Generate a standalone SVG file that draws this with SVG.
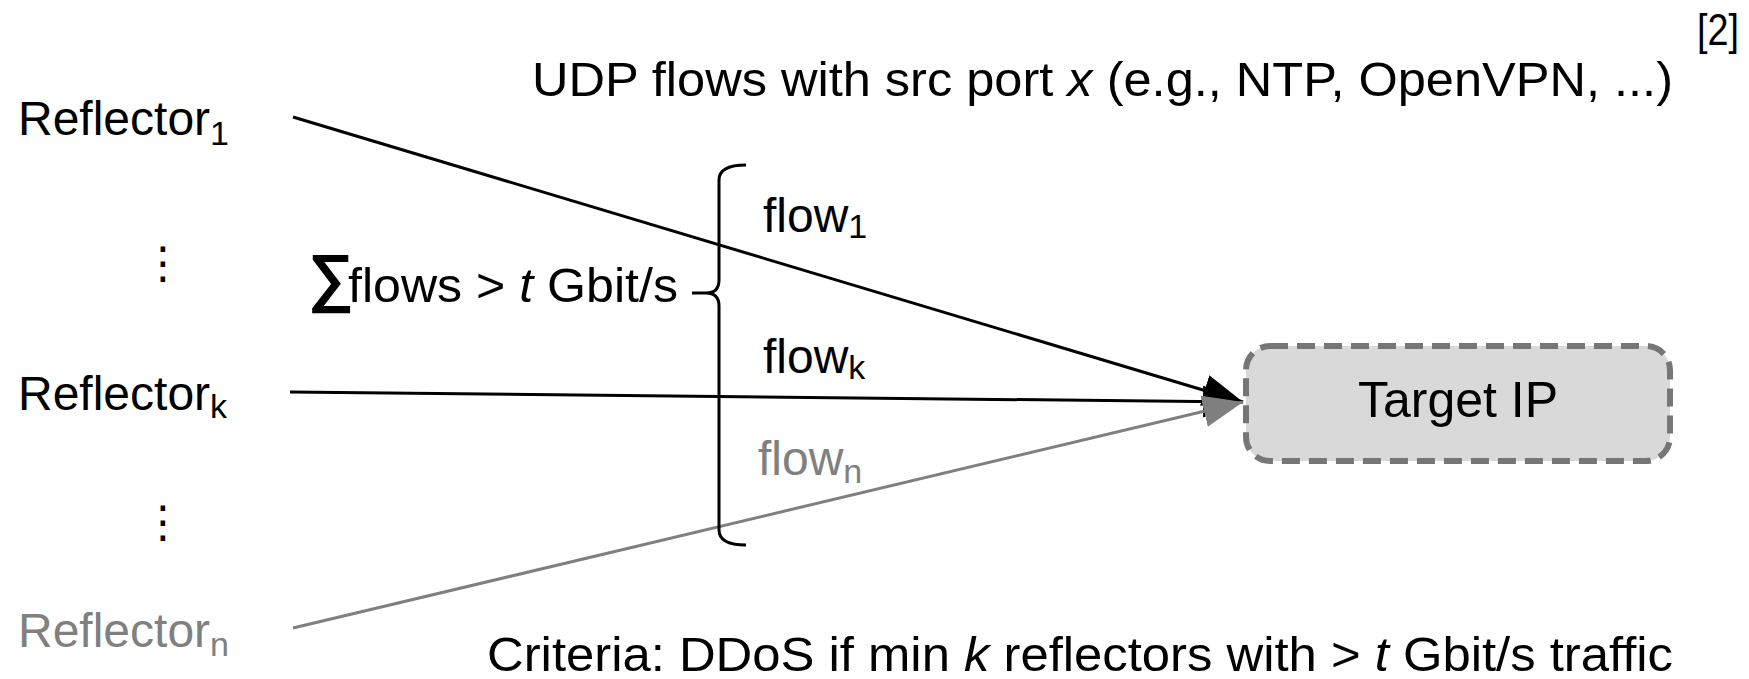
<svg xmlns="http://www.w3.org/2000/svg" width="1749" height="679" viewBox="0 0 1749 679">
<style>
text{font-family:"Liberation Sans",Arial,sans-serif;font-size:48px;fill:#000}
.gray{fill:#808080}
.sub{font-size:34px}
.it{font-style:italic}
.dots{font-family:"DejaVu Sans",sans-serif;font-size:44px;text-anchor:middle}
.sig{font-family:"Liberation Sans","DejaVu Sans",sans-serif;font-weight:bold;font-size:64px}
.ln{stroke:#000;stroke-width:3;fill:none}
.lng{stroke:#7f7f7f;stroke-width:3;fill:none}
</style>
<defs>
<marker id="ab" markerUnits="userSpaceOnUse" markerWidth="40" markerHeight="32" refX="40" refY="16" orient="auto"><path d="M0,0 L40,16 L0,32 z" fill="#000"/></marker>
<marker id="ag" markerUnits="userSpaceOnUse" markerWidth="40" markerHeight="32" refX="40" refY="16" orient="auto"><path d="M0,0 L40,16 L0,32 z" fill="#7f7f7f"/></marker>
</defs>
<rect width="1749" height="679" fill="#fff"/>
<text x="1697" y="45" style="font-size:44px" textLength="42" lengthAdjust="spacingAndGlyphs">[2]</text>
<text x="532" y="96" textLength="1141" lengthAdjust="spacingAndGlyphs">UDP flows with src port <tspan class="it">x</tspan> (e.g., NTP, OpenVPN, ...)</text>
<text x="487" y="671" textLength="1186" lengthAdjust="spacingAndGlyphs">Criteria: DDoS if min <tspan class="it">k</tspan> reflectors with &gt; <tspan class="it">t</tspan> Gbit/s traffic</text>
<g id="reflector1"><text x="18" y="135">Reflector<tspan class="sub" dy="10">1</tspan></text></g>
<g id="dots1"><text class="dots" x="163" y="278">⋮</text></g>
<g id="reflectork"><text x="18" y="410">Reflector<tspan class="sub" dy="8">k</tspan></text></g>
<g id="dots2"><text class="dots" x="163" y="537">⋮</text></g>
<g id="reflectorn"><text class="gray" x="18" y="647">Reflector<tspan class="sub" dy="9">n</tspan></text></g>
<g id="target"><rect x="1246" y="346" width="424" height="115" rx="24" fill="#d9d9d9" stroke="#767676" stroke-width="6" stroke-dasharray="18 9"/><text x="1458" y="417" text-anchor="middle" style="font-size:50px">Target IP</text></g>
<g id="connectors">
<line class="ln" x1="290" y1="392" x2="1243" y2="402" marker-end="url(#ab)"/>
<line class="ln" x1="293" y1="117" x2="1243" y2="402" marker-end="url(#ab)"/>
<line class="lng" x1="293" y1="628" x2="1243" y2="402" marker-end="url(#ag)"/>
</g>
<g id="brace">
<path class="ln" d="M746,165 Q719,165 719,180 L719,280 Q719,293 706,293 L692,293 M706,293 Q719,293 719,306 L719,530 Q719,545 746,545"/>
<text x="308" y="299"><tspan class="sig">∑</tspan><tspan x="348" y="302" textLength="330" lengthAdjust="spacingAndGlyphs">flows &gt; <tspan class="it">t</tspan> Gbit/s</tspan></text>
</g>
<g id="flow1"><text x="763" y="232">flow<tspan class="sub" dy="6">1</tspan></text></g>
<g id="flowk"><text x="763" y="373">flow<tspan class="sub" dy="6">k</tspan></text></g>
<g id="flown"><text class="gray" x="758" y="475">flow<tspan class="sub" dy="8">n</tspan></text></g>
</svg>
